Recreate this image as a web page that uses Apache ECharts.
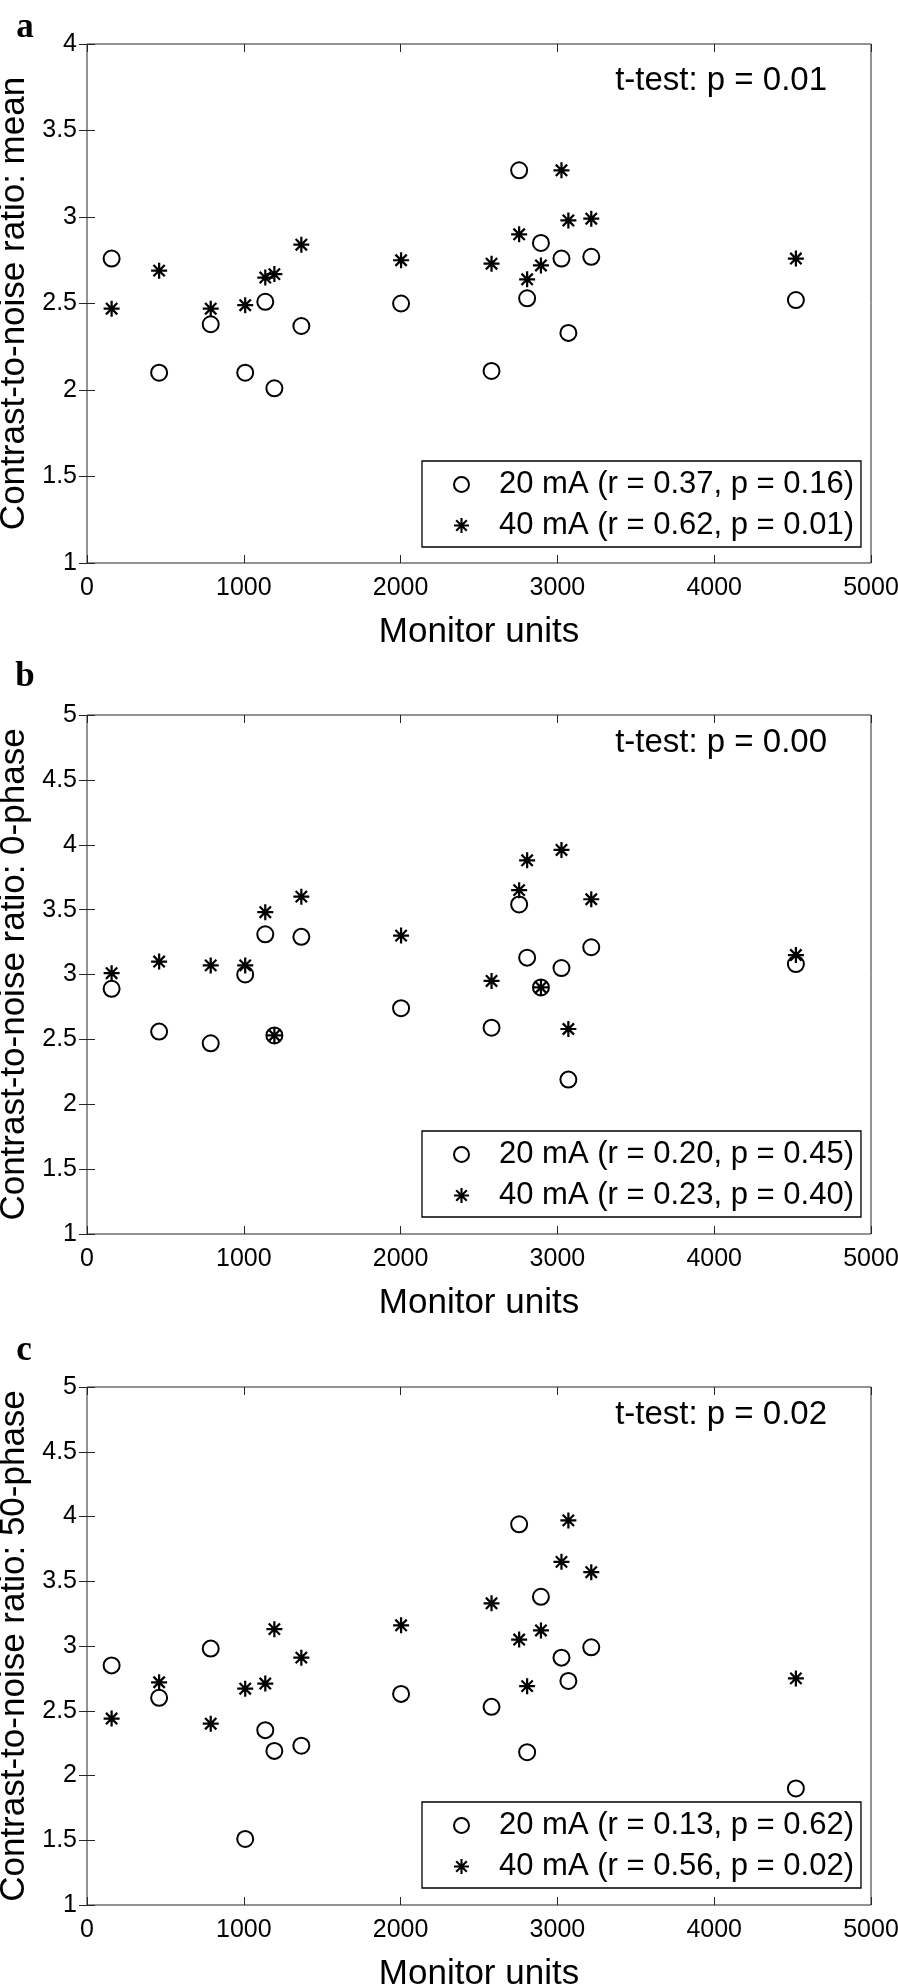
<!DOCTYPE html>
<html><head><meta charset="utf-8">
<script src="https://cdn.jsdelivr.net/npm/echarts@6/dist/echarts.min.js"></script>
<style>html,body{margin:0;padding:0;background:#fff}#c{width:898px;height:1986px}</style>
</head><body><div id="c"></div>
<script>
// ---- data ----
const monitorUnits = [157, 460, 789, 1009, 1137, 1195, 1367, 2003, 2580, 2756, 2807, 2895, 3026, 3070, 3216, 4521];
const meanCnr20 = [2.76, 2.10, 2.38, 2.10, 2.51, 2.01, 2.37, 2.50, 2.11, 3.27, 2.53, 2.85, 2.76, 2.33, 2.77, 2.52];
const meanCnr40 = [2.47, 2.69, 2.47, 2.49, 2.65, 2.67, 2.84, 2.75, 2.73, 2.90, 2.64, 2.72, 3.27, 2.98, 2.99, 2.76];
const phase0Cnr20 = [2.89, 2.56, 2.47, 3.00, 3.31, 2.53, 3.29, 2.74, 2.59, 3.54, 3.13, 2.90, 3.05, 2.19, 3.21, 3.08];
const phase0Cnr40 = [3.01, 3.10, 3.07, 3.07, 3.48, 2.53, 3.60, 3.30, 2.95, 3.65, 3.88, 2.90, 3.96, 2.58, 3.58, 3.15];
const phase50Cnr20 = [2.85, 2.60, 2.98, 1.51, 2.35, 2.19, 2.23, 2.63, 2.53, 3.94, 2.18, 3.38, 2.91, 2.73, 2.99, 1.90];
const phase50Cnr40 = [2.44, 2.72, 2.40, 2.67, 2.71, 3.13, 2.91, 3.16, 3.33, 3.05, 2.69, 3.12, 3.65, 3.97, 3.57, 2.75];

const panelLetters = ['a', 'b', 'c'];
const yTitles = ['Contrast-to-noise ratio: mean', 'Contrast-to-noise ratio: 0-phase', 'Contrast-to-noise ratio: 50-phase'];
const xTitle = 'Monitor units';
const legend20 = ['20 mA (r = 0.37, p = 0.16)', '20 mA (r = 0.20, p = 0.45)', '20 mA (r = 0.13, p = 0.62)'];
const legend40 = ['40 mA (r = 0.62, p = 0.01)', '40 mA (r = 0.23, p = 0.40)', '40 mA (r = 0.56, p = 0.02)'];
const tTests = ['t-test: p = 0.01', 't-test: p = 0.00', 't-test: p = 0.02'];
const yMax = [4, 5, 5];
const yMin = 1, yStep = 0.5;
const xMin = 0, xMax = 5000, xStep = 1000;

const series20 = [meanCnr20, phase0Cnr20, phase50Cnr20];
const series40 = [meanCnr40, phase0Cnr40, phase50Cnr40];

// ---- layout ----
const FONT = 'Liberation Sans, Arial, Helvetica, sans-serif';
const AX = '#262626';
const grids = [
  {left: 87, top: 44, width: 784, height: 519},
  {left: 87, top: 715, width: 784, height: 519},
  {left: 87, top: 1387, width: 784, height: 518}
];
const legendPos = [461, 1131, 1802];
const tTestY = [81, 743, 1415];
const letterPos = [[25, 28], [25, 677], [24, 1351]];

const STAR = 'path://M43 0H57V100H43Z M0 43H100V57H0Z M19.6 9.7L90.3 80.4L80.4 90.3L9.7 19.6Z M9.7 80.4L80.4 9.7L90.3 19.6L19.6 90.3Z';

const xAxes = [], yAxes = [], series = [], legends = [], graphics = [];
grids.forEach((g, i) => {
  xAxes.push({
    type: 'value', gridIndex: i, min: xMin, max: xMax, interval: xStep, position: 'bottom',
    name: xTitle, nameLocation: 'middle', nameGap: 52,
    nameTextStyle: {fontFamily: FONT, fontSize: 35, color: '#000'},
    axisLine: {show: false},
    axisTick: {show: true, inside: true, length: 8, lineStyle: {color: AX, width: 1}},
    axisLabel: {show: true, margin: 13, fontFamily: FONT, fontSize: 25, color: '#000', formatter: v => String(v), hideOverlap: false},
    splitLine: {show: false}
  });
  yAxes.push({
    type: 'value', gridIndex: i, min: yMin, max: yMax[i], interval: yStep, position: 'left',
    name: yTitles[i], nameLocation: 'middle', nameGap: 52,
    nameTextStyle: {fontFamily: FONT, fontSize: 35, color: '#000'},
    axisLine: {show: false},
    axisTick: {show: true, inside: true, length: 8, lineStyle: {color: AX, width: 1}},
    axisLabel: {show: true, margin: 10, fontFamily: FONT, fontSize: 25, color: '#000', formatter: v => String(v)},
    splitLine: {show: false}
  });
});
grids.forEach((g, i) => {
  xAxes.push({
    type: 'value', gridIndex: i, min: xMin, max: xMax, interval: xStep, position: 'top',
    axisLine: {show: false}, axisLabel: {show: false}, splitLine: {show: false},
    axisTick: {show: true, inside: true, length: 8, lineStyle: {color: AX, width: 1}}
  });
  yAxes.push({
    type: 'value', gridIndex: i, min: yMin, max: yMax[i], interval: yStep, position: 'right',
    axisLine: {show: false}, axisLabel: {show: false}, splitLine: {show: false},
    axisTick: {show: true, inside: true, length: 8, lineStyle: {color: AX, width: 1}}
  });
});

grids.forEach((g, i) => {
  series.push({
    type: 'scatter', name: legend20[i], xAxisIndex: i, yAxisIndex: i,
    data: monitorUnits.map((x, k) => [x, series20[i][k]]),
    symbol: 'circle', symbolSize: 16, symbolKeepAspect: true,
    itemStyle: {color: 'rgba(255,255,255,0)', borderColor: '#000', borderWidth: 2, opacity: 1},
    emphasis: {disabled: true}, z: 3
  });
  series.push({
    type: 'scatter', name: legend40[i], xAxisIndex: i, yAxisIndex: i,
    data: monitorUnits.map((x, k) => [x, series40[i][k]]),
    symbol: STAR, symbolSize: 16, symbolKeepAspect: true,
    itemStyle: {color: '#000', borderWidth: 0, opacity: 1},
    emphasis: {disabled: true}, z: 4
  });
  legends.push({
    show: true, orient: 'vertical', left: 422, top: legendPos[i],
    data: [legend20[i], legend40[i]],
    itemWidth: 15, itemHeight: 15, itemGap: 10,
    padding: [8, 7, 6, 31],
    borderColor: '#000', borderWidth: 1.3, backgroundColor: '#fff',
    textStyle: {fontFamily: FONT, fontSize: 31, color: '#000', padding: [0, 0, 0, 25]},
    selectedMode: false, inactiveColor: '#000'
  });
  graphics.push({
    type: 'text', x: 827, y: tTestY[i], z: 10,
    style: {text: tTests[i], font: '33px ' + FONT, fill: '#000', align: 'right', verticalAlign: 'middle'}
  });
  graphics.push({
    type: 'text', x: letterPos[i][0], y: letterPos[i][1], z: 10,
    style: {text: panelLetters[i], font: 'bold 35px Liberation Serif, Times New Roman, serif', fill: '#000', align: 'center', verticalAlign: 'middle'}
  });
});

const chart = echarts.init(document.getElementById('c'), null, {renderer: 'canvas', width: 898, height: 1986});
chart.setOption({
  animation: false,
  backgroundColor: '#fff',
  grid: grids.map(g => Object.assign({show: true, borderColor: AX, borderWidth: 1, backgroundColor: 'transparent', containLabel: false, outerBoundsMode: 'none'}, g)),
  xAxis: xAxes,
  yAxis: yAxes,
  legend: legends,
  series: series,
  graphic: graphics,
  tooltip: {show: false}
});
</script>
</body></html>
